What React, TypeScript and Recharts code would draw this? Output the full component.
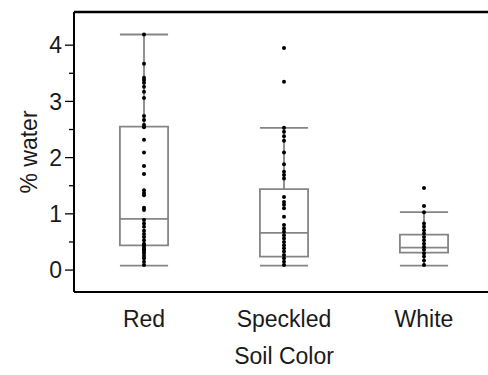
import React from 'react';
import {
  ComposedChart,
  Scatter,
  XAxis,
  YAxis,
  ReferenceArea,
  ReferenceLine,
} from 'recharts';

// categories and box stats
const categories = ['Red', 'Speckled', 'White'];
const whiskerLow = [0.08, 0.08, 0.08];
const q1 = [0.44, 0.24, 0.31];
const median = [0.91, 0.66, 0.4];
const q3 = [2.55, 1.44, 0.63];
const whiskerHigh = [4.19, 2.53, 1.03];

// individual observations
const redPoints = [
  4.19, 3.67, 3.42, 3.38, 3.33, 3.26, 3.17, 3.06, 2.74, 2.67, 2.58, 2.54, 2.32, 2.09, 1.85, 1.71,
  1.42, 1.37, 1.33, 1.11, 1.07, 0.89, 0.83, 0.77, 0.7, 0.64, 0.59, 0.53, 0.47, 0.44, 0.41, 0.38,
  0.36, 0.33, 0.3, 0.25, 0.21, 0.15, 0.09,
];
const speckledPoints = [
  3.95, 3.35, 2.53, 2.46, 2.38, 2.3, 2.09, 1.88, 1.75, 1.69, 1.63, 1.3, 1.21, 1.16, 1.1, 0.95,
  0.8, 0.74, 0.68, 0.62, 0.56, 0.5, 0.44, 0.39, 0.33, 0.27, 0.21, 0.15, 0.09,
];
const whitePoints = [
  1.46, 1.14, 1.03, 0.83, 0.77, 0.71, 0.65, 0.59, 0.53, 0.47, 0.41, 0.36, 0.3, 0.24, 0.17, 0.09,
];

const yTicks = [0, 0.5, 1, 1.5, 2, 2.5, 3, 3.5, 4];
const yMin = -0.39;
const yMax = 4.59;

const pointSets = [redPoints, speckledPoints, whitePoints];
const pointData = pointSets.flatMap((pts, i) => pts.map((v) => ({ x: i + 1, v })));

const HALF = 0.172; // half box width in category units
const BOX = '#858585';
const FONT = '"Liberation Sans", Arial, sans-serif';
const FS = 23;
const TICK_SIZE = 9;
const TICK_MARGIN = 3;

const YTick = (props: any) => {
  const { x, y, payload } = props;
  const v = payload.value;
  const major = Number.isInteger(v);
  const axisX = x + TICK_SIZE + TICK_MARGIN;
  return (
    <g>
      <line x1={major ? axisX - TICK_SIZE : axisX - 5} x2={axisX} y1={y} y2={y} stroke="#000" strokeWidth={1.3} />
      {major && (
        <text x={x} y={y} dy="0.36em" textAnchor="end" fill="#1a1a1a" fontSize={FS} fontFamily={FONT}>
          {v}
        </text>
      )}
    </g>
  );
};

const Dot = (props: any) => <circle cx={props.cx} cy={props.cy} r={2} fill="#000" />;

const App = () => {
  return (
    <div style={{ position: 'absolute', left: 0, top: 0, width: 488, height: 375, overflow: 'hidden', background: '#fff' }}>
      <ComposedChart width={500} height={375} margin={{ top: 12, right: 6, bottom: 0, left: 0 }}>
        <XAxis
          type="number"
          dataKey="x"
          domain={[0.5, 3.5]}
          ticks={[1, 2, 3]}
          tickFormatter={(v: number) => categories[v - 1]}
          tickSize={0}
          tickMargin={19}
          height={83}
          axisLine={{ stroke: '#000', strokeWidth: 2 }}
          tick={{ fill: '#1a1a1a', fontSize: FS, fontFamily: FONT }}
          label={{ value: 'Soil Color', position: 'insideBottom', offset: 11, fill: '#1a1a1a', fontSize: FS, fontFamily: FONT }}
        />
        <YAxis
          type="number"
          dataKey="v"
          domain={[yMin, yMax]}
          ticks={yTicks}
          interval={0}
          width={74}
          tickSize={TICK_SIZE}
          tickMargin={TICK_MARGIN}
          tickLine={false}
          tick={<YTick />}
          axisLine={{ stroke: '#000', strokeWidth: 2 }}
          label={{ value: '% water', angle: -90, position: 'center', dx: -8, fill: '#1a1a1a', fontSize: FS, fontFamily: FONT }}
        />
        <ReferenceLine y={yMax} stroke="#000" strokeWidth={2.5} />
        {categories.map((c, i) => {
          const cx = i + 1;
          return (
            <React.Fragment key={c}>
              <ReferenceArea x1={cx - HALF} x2={cx + HALF} y1={q1[i]} y2={q3[i]} fill="none" fillOpacity={0} stroke={BOX} strokeWidth={1.8} />
              <ReferenceLine segment={[{ x: cx - HALF, y: median[i] }, { x: cx + HALF, y: median[i] }]} stroke={BOX} strokeWidth={1.8} />
              <ReferenceLine segment={[{ x: cx, y: q3[i] }, { x: cx, y: whiskerHigh[i] }]} stroke={BOX} strokeWidth={1.8} />
              <ReferenceLine segment={[{ x: cx, y: whiskerLow[i] }, { x: cx, y: q1[i] }]} stroke={BOX} strokeWidth={1.8} />
              <ReferenceLine segment={[{ x: cx - HALF, y: whiskerHigh[i] }, { x: cx + HALF, y: whiskerHigh[i] }]} stroke={BOX} strokeWidth={1.8} />
              <ReferenceLine segment={[{ x: cx - HALF, y: whiskerLow[i] }, { x: cx + HALF, y: whiskerLow[i] }]} stroke={BOX} strokeWidth={1.8} />
            </React.Fragment>
          );
        })}
        <Scatter data={pointData} dataKey="v" shape={<Dot />} isAnimationActive={false} />
      </ComposedChart>
    </div>
  );
};

export default App;
